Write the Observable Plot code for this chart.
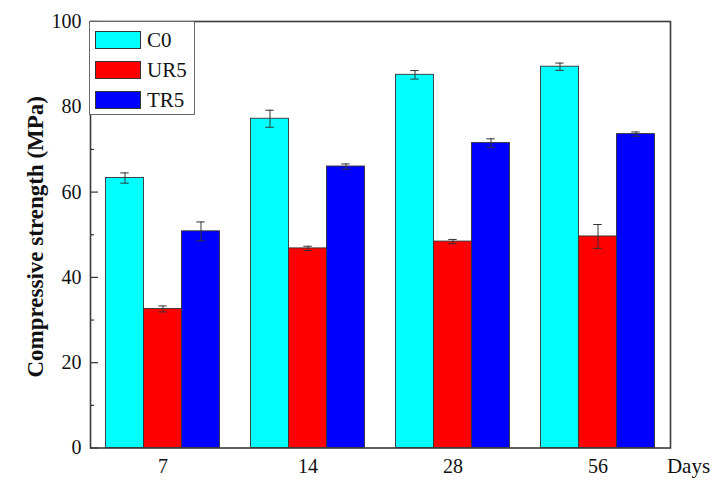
<!DOCTYPE html>
<html><head><meta charset="utf-8">
<script src="https://cdn.jsdelivr.net/npm/d3@7"></script>
<script src="https://cdn.jsdelivr.net/npm/@observablehq/plot@0.6"></script>
<style>
body{margin:0;background:#fff;}
#wrap{position:relative;width:716px;height:484px;font-family:"Liberation Serif","Times New Roman",serif;}
#legend{position:absolute;left:89px;top:21px;width:106px;height:94px;border:1px solid #666;background:#fff;box-sizing:border-box;}
.item{position:absolute;left:5px;height:18px;display:flex;align-items:center;}
.sw{width:46px;height:18px;border:1px solid #333;box-sizing:border-box;}
.lab{margin-left:6px;font-size:21px;color:#111;line-height:18px;}
</style></head><body><div id="wrap"><div id="legend"></div></div>
<script>
const days = [7, 14, 28, 56];
const series = ["C0", "UR5", "TR5"];
const colors = ["#00FFFF", "#FF0000", "#0000FF"];
const c0 = [63.3, 77.2, 87.5, 89.4];
const ur5 = [32.6, 46.8, 48.4, 49.6];
const tr5 = [50.8, 66.0, 71.5, 73.6];
const c0Err = [1.2, 2.0, 1.0, 0.85];
const ur5Err = [0.7, 0.5, 0.5, 2.8];
const tr5Err = [2.2, 0.6, 1.0, 0.5];
const yTicks = [0, 20, 40, 60, 80, 100];
const yMinor = [10, 30, 50, 70, 90];

const values = {C0: c0, UR5: ur5, TR5: tr5};
const errs = {C0: c0Err, UR5: ur5Err, TR5: tr5Err};
const data = [];
days.forEach((d, i) => series.forEach(s => data.push({day: d, series: s, value: values[s][i], err: errs[s][i]})));

const font = '"Liberation Serif","Times New Roman",serif';
const chart = Plot.plot({
  width: 716, height: 484,
  marginLeft: 89.5, marginRight: 46, marginTop: 21, marginBottom: 36.5,
  style: {fontFamily: font, background: "white", color: "#111"},
  fx: {domain: days, padding: 0},
  x: {domain: series, paddingInner: 0, paddingOuter: 0.373, axis: null},
  y: {domain: [0, 100]},
  color: {domain: series, range: colors},
  marks: [
    Plot.barY(data, {fx: "day", x: "series", y: "value", fill: "series", stroke: "#333", strokeWidth: 0.9}),
    Plot.ruleX(data, {fx: "day", x: "series", y1: d => d.value - d.err, y2: d => d.value + d.err, stroke: "#333", strokeWidth: 1}),
    Plot.tickY(data, {fx: "day", x: "series", y: d => d.value - d.err, inset: 14.8, stroke: "#333", strokeWidth: 1}),
    Plot.tickY(data, {fx: "day", x: "series", y: d => d.value + d.err, inset: 14.8, stroke: "#333", strokeWidth: 1}),
    Plot.ruleY(yTicks, {facetAnchor: "left", insetRight: 137, stroke: "#333", strokeWidth: 1.2}),
    Plot.ruleY(yMinor, {facetAnchor: "left", insetRight: 141, stroke: "#333", strokeWidth: 1.2}),
    Plot.axisY({ticks: yTicks, tickSize: 0, tickPadding: 9, fontSize: 20, label: null}),
    Plot.axisFx({anchor: "bottom", tickSize: 0, tickPadding: 11, fontSize: 20, label: null}),
    Plot.text(["Days"], {frameAnchor: "bottom-right", facetAnchor: "right", lineAnchor: "top", dx: 18, dy: 10, textAnchor: "middle", fontSize: 21}),
    Plot.text(["Compressive strength (MPa)"], {frameAnchor: "left", facetAnchor: "left", rotate: -90, textAnchor: "middle", dx: -55, dy: 2, fontSize: 23, fontWeight: "bold"}),
    Plot.frame({facet: "super", stroke: "#3a3a3a", strokeWidth: 1.6})
  ]
});
const wrap = document.getElementById("wrap");
wrap.insertBefore(chart, wrap.firstChild);

const legend = document.getElementById("legend");
series.forEach((s, i) => {
  const item = document.createElement("div");
  item.className = "item";
  item.style.top = (9 + i * 30) + "px";
  item.innerHTML = `<div class="sw" style="background:${colors[i]}"></div><span class="lab">${s}</span>`;
  legend.appendChild(item);
});
</script></body></html>
